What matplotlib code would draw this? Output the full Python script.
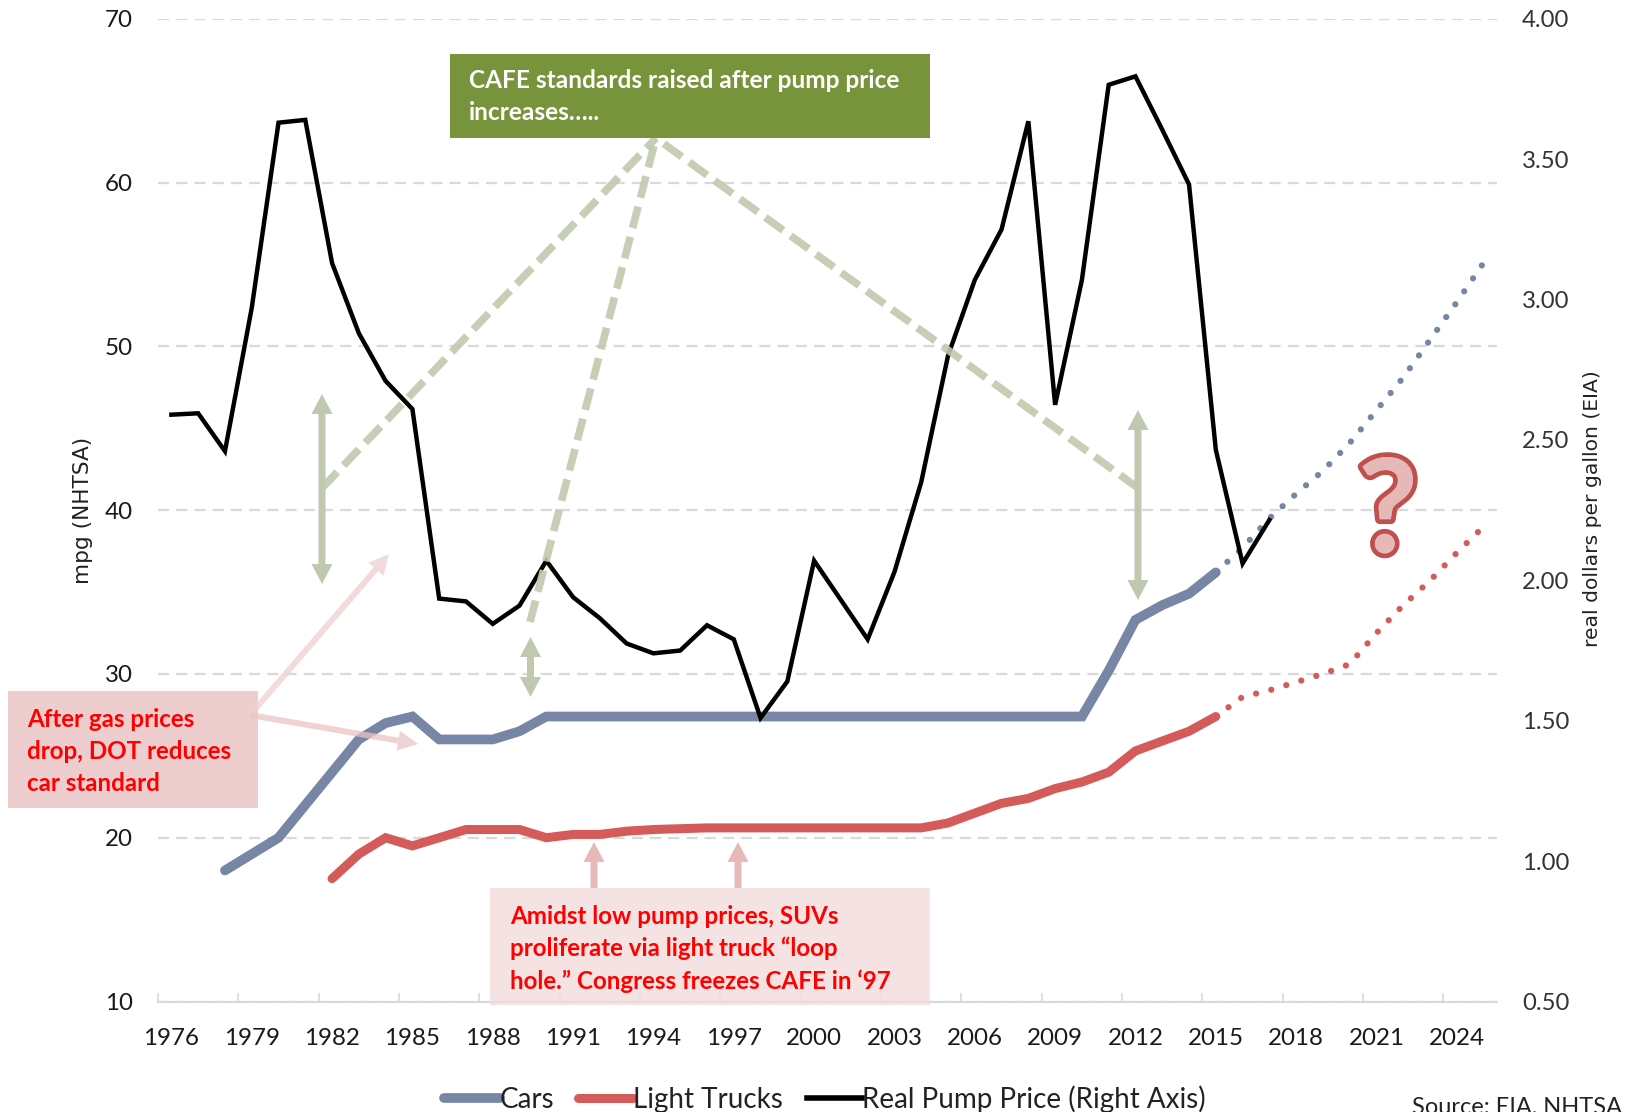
import numpy as np
import matplotlib
matplotlib.use('Agg')
import matplotlib.pyplot as plt
import matplotlib.patheffects as pe
from matplotlib.patches import Rectangle

plt.rcParams['font.family'] = ['Lato', 'DejaVu Sans']

price_years = list(range(1976, 2018))
pump_price = [2.59, 2.595, 2.46, 2.97, 3.63, 3.64, 3.13, 2.88, 2.71, 2.61, 1.935, 1.925, 1.845, 1.91,
              2.07, 1.94, 1.865, 1.775, 1.74, 1.75, 1.84, 1.79, 1.51, 1.64, 2.07, 1.93, 1.79, 2.03,
              2.35, 2.80, 3.07, 3.25, 3.635, 2.625, 3.07, 3.765, 3.795, 3.605, 3.41, 2.465, 2.06, 2.215]

car_years = list(range(1978, 2016))
cars = [18, 19, 20, 22, 24, 26, 27, 27.4, 26, 26, 26, 26.5, 27.4, 27.4, 27.4, 27.4, 27.4, 27.4, 27.4,
        27.4, 27.4, 27.4, 27.4, 27.4, 27.4, 27.4, 27.4, 27.4, 27.4, 27.4, 27.4, 27.4, 27.4, 30.2,
        33.3, 34.2, 34.9, 36.2]
truck_years = list(range(1982, 2016))
trucks = [17.5, 19, 20, 19.5, 20, 20.5, 20.5, 20.5, 20, 20.2, 20.2, 20.4, 20.5, 20.55, 20.6, 20.6, 20.6,
          20.6, 20.6, 20.6, 20.6, 20.6, 20.6, 20.9, 21.5, 22.1, 22.4, 23, 23.4, 24, 25.3, 25.9,
          26.5, 27.4]

future_years = list(range(2015, 2026))
cars_future = [36.2, 37.7, 39.5, 41.0, 42.4, 44.1, 46.1, 48.1, 50.4, 52.7, 55.1]
trucks_future = [27.4, 28.6, 29.0, 29.5, 30.0, 30.6, 32.5, 34.2, 35.7, 37.4, 39.0]

label_years = list(range(1976, 2025, 3))
mpg_ticks = [10, 20, 30, 40, 50, 60, 70]
price_ticks = [0.5, 1, 1.5, 2, 2.5, 3, 3.5, 4]

blue = '#7686A4'
red = '#D55B5B'
grey = '#D9D9D9'
sage = '#C0C9AE'
W, H = 1650, 1112

fig = plt.figure(figsize=(W / 100, H / 100), dpi=100)
ax = fig.add_axes([158 / W, 1 - 1001.5 / H, (1497 - 158) / W, (1001.5 - 18.8) / H])
ax2 = ax.twinx()

ax.set_xlim(1975.5, 2025.5)
ax.set_ylim(10, 70)
ax2.set_ylim(0.5, 4)

ax.set_yticks(mpg_ticks)
ax2.set_yticks(price_ticks, ['%.2f' % p for p in price_ticks])
ax.set_xticks(label_years, [str(y) for y in label_years])
ax.set_xticks(np.arange(1975.5, 2025.6, 3), minor=True)
ax.tick_params(axis='x', which='major', length=0, pad=19, labelsize=17.4, labelcolor='#1a1a1a')
ax.tick_params(axis='x', which='minor', direction='in', length=6.5, width=1.2, color=grey)
ax.tick_params(axis='y', length=0, pad=18, labelsize=17.4, labelcolor='#1a1a1a')
ax2.tick_params(axis='y', length=0, pad=18, labelsize=17.2, labelcolor='#333333')

ax.grid(axis='y', color=grey, lw=1.6, ls=(0, (5, 3.2)))
ax.set_axisbelow(True)
for s in ['top', 'left', 'right']:
    ax.spines[s].set_visible(False)
    ax2.spines[s].set_visible(False)
ax.spines['bottom'].set_color(grey)
ax.spines['bottom'].set_linewidth(1.5)
ax2.spines['bottom'].set_visible(False)

l1, = ax.plot(car_years, cars, color=blue, lw=7, solid_capstyle='round', solid_joinstyle='miter', label='Cars')
l2, = ax.plot(truck_years, trucks, color=red, lw=6.5, solid_capstyle='round', solid_joinstyle='miter',
              label='Light Trucks')
ax.plot(future_years, cars_future, color=blue, lw=4.5, ls=(0, (0.01, 2.5)), dash_capstyle='round')
ax.plot(future_years, trucks_future, color=red, lw=4.5, ls=(0, (0.01, 2.5)), dash_capstyle='round')
l3, = ax2.plot(price_years, pump_price, color='black', lw=3.2, solid_joinstyle='miter',
               label='Real Pump Price (Right Axis)')

fig.text(83 / W, 1 - 510 / H, 'mpg (NHTSA)', family='DejaVu Sans', rotation=90, ha='center', va='center',
         fontsize=15.6, color='#222222')
fig.text(1593 / W, 1 - 509 / H, 'real dollars per gallon (EIA)', family='DejaVu Sans', rotation=90,
         ha='center', va='center', fontsize=14.6, color='#222222')

leg = fig.legend(handles=[l1, l2, l3], loc='center', bbox_to_anchor=(825 / W, 1 - 1099 / H), ncol=3, frameon=False,
                 fontsize=20, handlelength=2.0, handletextpad=0.0, columnspacing=0.85, labelcolor='#222222')
leg.legend_handles[2].set_linewidth(4)
fig.text(1412 / W, 1 - 1107 / H, 'Source: EIA, NHTSA', fontsize=17, ha='left', va='center', color='#222222')

# overlay in pixels for the callouts
ov = fig.add_axes([0, 0, 1, 1], facecolor='none')
ov.set_xlim(0, W)
ov.set_ylim(H, 0)
ov.axis('off')

# green dashed lines from the box
for x_end, y_end in [(322, 488), (530, 622), (1138, 488)]:
    ov.plot([x_end, 656], [y_end, 138], color=sage, lw=5.5, ls=(0, (2.9, 1.2)), alpha=0.9)


def arrow(x0, y0, x1, y1, color, alpha=1.0, width=7, head=21, hlen=20):
    ov.arrow(x0, y0, x1 - x0, y1 - y0, width=width, head_width=head, head_length=hlen,
             length_includes_head=True, color=color, lw=0, alpha=alpha, zorder=3)


for x, top, bot in [(322, 394, 584), (530.5, 637, 697), (1138, 410, 600)]:
    mid = (top + bot) / 2
    arrow(x, mid, x, top, sage)
    arrow(x, mid, x, bot, sage)

ov.add_patch(Rectangle((450, 54), 480, 84, color='#77933C', lw=0, zorder=2))
ov.add_patch(Rectangle((8, 691), 250, 117, color='#EDCDCE', lw=0, zorder=2))
ov.add_patch(Rectangle((490, 888), 440, 117, color='#F2DCDB', lw=0, alpha=0.8, zorder=2))

arrow(250, 715, 389, 554, '#EFCFCF', alpha=0.75, width=6, head=20)
arrow(250, 715, 418, 744, '#EBC4C4', alpha=0.75, width=6, head=20)
arrow(594, 888, 594, 842, '#E6B9B8')
arrow(738, 888, 738, 842, '#E6B9B8')

ov.text(469, 96.5, 'CAFE standards raised after pump price\nincreases\u2026..', color='white', fontsize=17.6,
        fontweight='bold', va='center', ha='left', linespacing=1.45, zorder=4)
ov.text(27, 751.5, 'After gas prices\ndrop, DOT reduces\ncar standard', color='#FF0000', fontsize=17.4,
        fontweight='bold', va='center', ha='left', linespacing=1.45, zorder=4)
ov.text(510, 949, 'Amidst low pump prices, SUVs\nproliferate via light truck \u201cloop\nhole.\u201d Congress freezes CAFE in \u201897',
        color='#FF0000', fontsize=17.4, fontweight='bold', va='center', ha='left', linespacing=1.45, zorder=4)

ov.text(1388, 515, '?', fontsize=94, fontweight='bold', color='#E6B9B8', ha='center', va='center', zorder=4,
        path_effects=[pe.withStroke(linewidth=7, foreground='#C0504D'), pe.Normal()])

fig.savefig('out.png', dpi=100)
